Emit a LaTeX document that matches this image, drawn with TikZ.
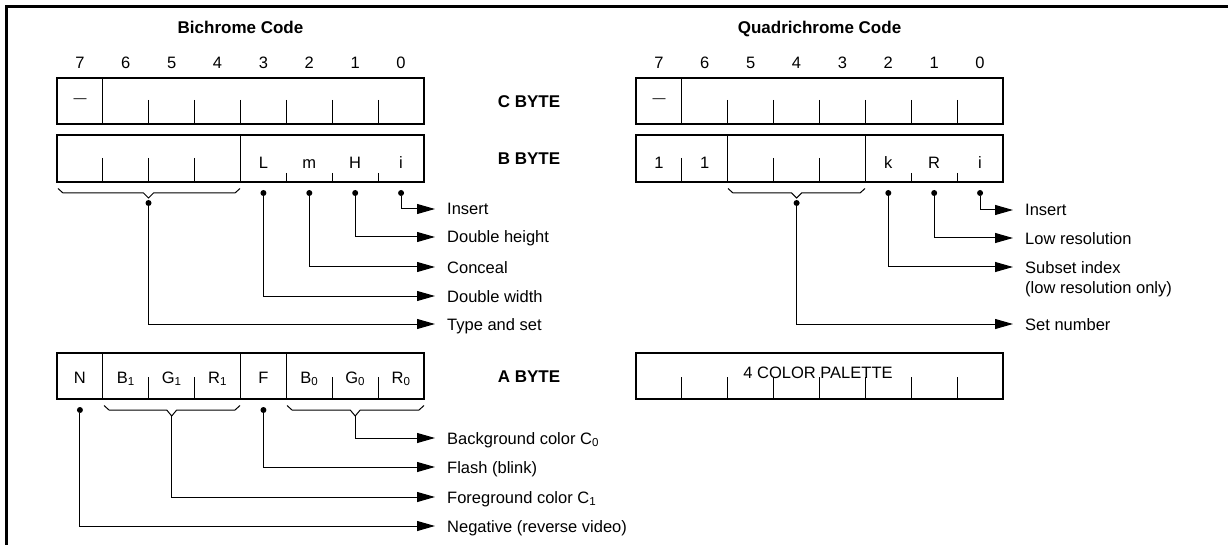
\documentclass[tikz,border=0pt]{standalone}
\usepackage{fontspec}
\setmainfont{Liberation Sans}
\usetikzlibrary{arrows.meta}
\begin{document}
\begin{tikzpicture}[x=1pt,y=-1pt,
  lbl/.style={font=\fontsize{16.5}{18}\selectfont, inner sep=0pt, text height=12pt, text depth=0pt},
  hdr/.style={font=\fontsize{17}{19}\selectfont\bfseries, inner sep=0pt, text height=12.5pt, text depth=0pt},
  desc/.style={lbl, anchor=west},
  dashlbl/.style={font=\fontsize{13}{15}\selectfont, inner sep=0pt},
  boxline/.style={line width=1.2pt},
  frame/.style={line width=2.6pt},
  dot/.style={circle, fill=black, inner sep=0pt, minimum size=6pt},
  conn/.style={line width=1pt},
  arr/.style={conn, -{Triangle[length=18pt,width=10pt]}},
  brace/.style={line width=1pt}]
\useasboundingbox (0,0) rectangle (1228,545);
\draw[frame] (6.5,545) -- (6.5,6.5) -- (1228,6.5);

%% ================= Bichrome =================
\node[hdr] (titleB) at (240.5,27) {Bichrome Code};
\foreach \k/\b in {0/7,1/6,2/5,3/4,4/3,5/2,6/1,7/0}
  \node[lbl] (bitB\k) at ({57+(\k+0.5)*45.875},63) {\b};
% C byte
\draw[boxline] (57,78) rectangle (424,124);
\draw[boxline] (102.875,78) -- (102.875,124);
\foreach \k in {2,...,7} \draw[boxline] ({57+\k*45.875},100) -- ++(0,24);
\node[dashlbl] (cdashB) at (80,100.5) {\textemdash};
\node[hdr] (cbyte) at (529,101) {C BYTE};
% B byte
\draw[boxline] (57,135) rectangle (424,182);
\draw[boxline] (240.5,135) -- (240.5,182);
\foreach \k in {1,2,3} \draw[boxline] ({57+\k*45.875},158) -- ++(0,24);
\foreach \k in {5,6,7} \draw[boxline] ({57+\k*45.875},173) -- ++(0,9);
\node[lbl] (cL) at ({57+4.5*45.875},163) {L};
\node[lbl] (cm) at ({57+5.5*45.875},163) {m};
\node[lbl] (cH) at ({57+6.5*45.875},163) {H};
\node[lbl] (ci) at ({57+7.5*45.875},163) {i};
\node[hdr] (bbyte) at (529,158) {B BYTE};
% dots
\node[dot] (dL) at ({57+4.5*45.875},193) {};
\node[dot] (dm) at ({57+5.5*45.875},193) {};
\node[dot] (dH) at ({57+6.5*45.875},193) {};
\node[dot] (di) at ({57+7.5*45.875},193) {};
% brace for bits 7-4
\draw[brace] (58,188.5) -- (63,193) -- (143.5,193) -- (148.5,198) -- (153.5,193) -- (235,193) -- (240,188.5);
\node[dot] (dTS) at (148.5,203) {};
% descriptions
\node[desc] (tIns) at (447,209) {Insert};
\node[desc] (tDH) at (447,237) {Double height};
\node[desc] (tCon) at (447,267) {Conceal};
\node[desc] (tDW) at (447,296) {Double width};
\node[desc] (tTS) at (447,324) {Type and set};
\draw[arr] (di) |- ([xshift=-12pt]tIns.west);
\draw[arr] (dH) |- ([xshift=-12pt]tDH.west);
\draw[arr] (dm) |- ([xshift=-12pt]tCon.west);
\draw[arr] (dL) |- ([xshift=-12pt]tDW.west);
\draw[arr] (dTS) |- ([xshift=-12pt]tTS.west);

% A byte
\draw[boxline] (57,353) rectangle (424,399);
\foreach \k in {1,4,5} \draw[boxline] ({57+\k*45.875},353) -- ++(0,46);
\foreach \k in {2,3,6,7} \draw[boxline] ({57+\k*45.875},377) -- ++(0,22);
\node[lbl] (aN) at ({57+0.5*45.875},377) {N};
\node[lbl] (aB1) at ({57+1.5*45.875},377) {B\textsubscript{1}};
\node[lbl] (aG1) at ({57+2.5*45.875},377) {G\textsubscript{1}};
\node[lbl] (aR1) at ({57+3.5*45.875},377) {R\textsubscript{1}};
\node[lbl] (aF) at ({57+4.5*45.875},377) {F};
\node[lbl] (aB0) at ({57+5.5*45.875},377) {B\textsubscript{0}};
\node[lbl] (aG0) at ({57+6.5*45.875},377) {G\textsubscript{0}};
\node[lbl] (aR0) at ({57+7.5*45.875},377) {R\textsubscript{0}};
\node[hdr] (abyte) at (529,376) {A BYTE};
\node[dot] (dN) at ({57+0.5*45.875},410) {};
\node[dot] (dF) at ({57+4.5*45.875},410) {};
\draw[brace] (104,405.5) -- (109,410) -- (166.7,410) -- (171.7,416) -- (176.7,410) -- (235,410) -- (240,405.5);
\coordinate (fgTip) at (171.7,416);
\draw[brace] (287,405.5) -- (292,410) -- (350.2,410) -- (355.2,416) -- (360.2,410) -- (419,410) -- (424,405.5);
\coordinate (bgTip) at (355.2,416);
\node[desc] (tBg) at (447,438) {Background color C\textsubscript{0}};
\node[desc] (tFl) at (447,467) {Flash (blink)};
\node[desc] (tFg) at (447,497) {Foreground color C\textsubscript{1}};
\node[desc] (tNeg) at (447,526) {Negative (reverse video)};
\draw[arr] (bgTip) |- ([xshift=-12pt]tBg.west);
\draw[arr] (dF) |- ([xshift=-12pt]tFl.west);
\draw[arr] (fgTip) |- ([xshift=-12pt]tFg.west);
\draw[arr] (dN) |- ([xshift=-12pt]tNeg.west);

%% ================= Quadrichrome =================
\node[hdr] (titleQ) at (819.5,27) {Quadrichrome Code};
\foreach \k/\b in {0/7,1/6,2/5,3/4,4/3,5/2,6/1,7/0}
  \node[lbl] (bitQ\k) at ({636+(\k+0.5)*45.875},63) {\b};
% C byte
\draw[boxline] (636,78) rectangle (1003,124);
\draw[boxline] (681.875,78) -- (681.875,124);
\foreach \k in {2,...,7} \draw[boxline] ({636+\k*45.875},100) -- ++(0,24);
\node[dashlbl] (cdashQ) at (659,100.5) {\textemdash};
% B byte
\draw[boxline] (636,135) rectangle (1003,182);
\foreach \k in {2,5} \draw[boxline] ({636+\k*45.875},135) -- ++(0,47);
\foreach \k in {1,3,4} \draw[boxline] ({636+\k*45.875},158) -- ++(0,24);
\foreach \k in {6,7} \draw[boxline] ({636+\k*45.875},173) -- ++(0,9);
\node[lbl] (q1a) at ({636+0.5*45.875},163) {1};
\node[lbl] (q1b) at ({636+1.5*45.875},163) {1};
\node[lbl] (qk) at ({636+5.5*45.875},163) {k};
\node[lbl] (qR) at ({636+6.5*45.875},163) {R};
\node[lbl] (qi) at ({636+7.5*45.875},163) {i};
\node[dot] (dk) at ({636+5.5*45.875},193) {};
\node[dot] (dR) at ({636+6.5*45.875},193) {};
\node[dot] (dqi) at ({636+7.5*45.875},193) {};
\draw[brace] (728,188.5) -- (733,193) -- (791.6,193) -- (796.6,198) -- (801.6,193) -- (860,193) -- (865,188.5);
\node[dot] (dSN) at (796.6,203) {};
\node[desc] (tqIns) at (1025,210) {Insert};
\node[desc] (tLR) at (1025,238) {Low resolution};
\node[desc] (tSI) at (1025,267) {Subset index};
\node[desc] (tSI2) at (1025,288) {(low resolution only)};
\node[desc] (tSN) at (1025,324) {Set number};
\draw[arr] (dqi) |- ([xshift=-12pt]tqIns.west);
\draw[arr] (dR) |- ([xshift=-12pt]tLR.west);
\draw[arr] (dk) |- ([xshift=-12pt]tSI.west);
\draw[arr] (dSN) |- ([xshift=-12pt]tSN.west);
% palette
\draw[boxline] (636,353) rectangle (1003,399);
\foreach \k in {1,...,7} \draw[boxline] ({636+\k*45.875},377) -- ++(0,22);
\node[lbl] (pal) at (818,372) {4 COLOR PALETTE};
\end{tikzpicture}
\end{document}
